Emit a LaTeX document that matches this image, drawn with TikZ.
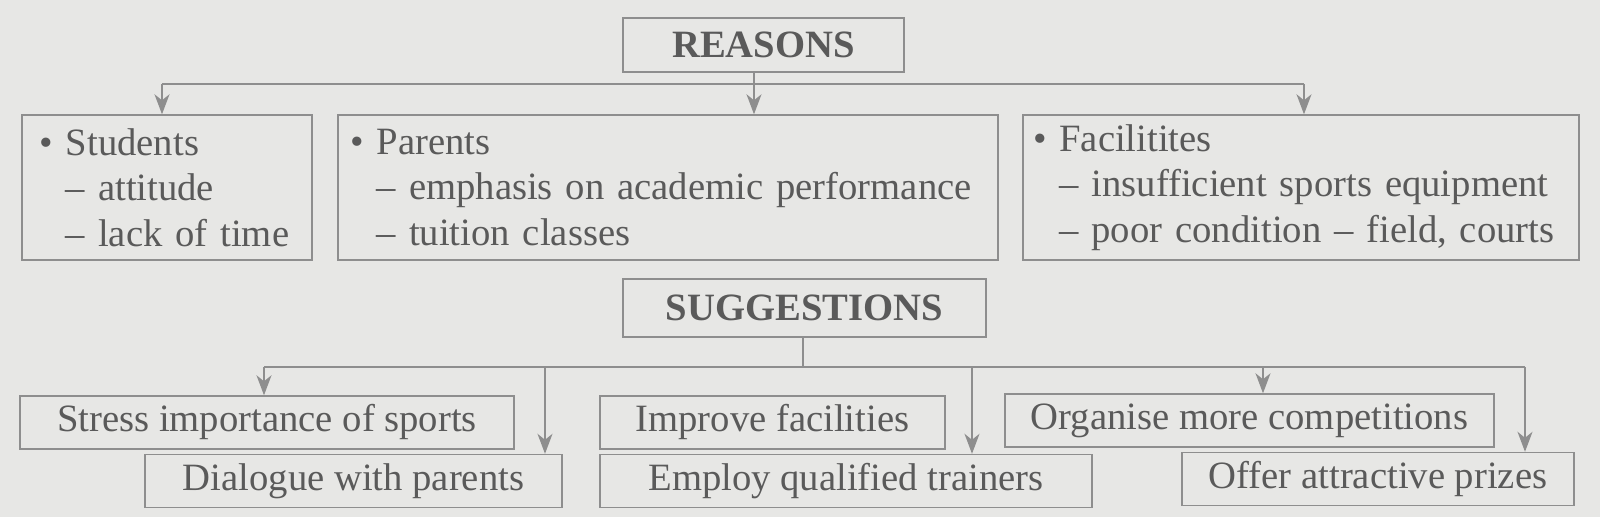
\documentclass[tikz,border=0pt]{standalone}
\usepackage{fontspec}
\setmainfont{Liberation Serif}
\usetikzlibrary{arrows.meta}
\definecolor{scanbg}{HTML}{E7E7E5}
\definecolor{inkline}{HTML}{8E8E8E}
\definecolor{inktext}{HTML}{5A5A5A}

\begin{document}
\begin{tikzpicture}[
  box/.style={draw=inkline, line width=0.8pt, text=inktext, inner sep=0pt, minimum height=1.06cm, font=\fontsize{22}{26}\selectfont},
  listbox/.style={box, align=left, inner xsep=0.35cm, minimum height=2.9cm},
  headbox/.style={box, font=\fontsize{22}{26}\selectfont\bfseries},
  bus/.style={draw=inkline, line width=0.8pt},
  arr/.style={bus, -{Stealth[length=0.4cm, width=0.3cm, inset=0.12cm]}}
]
\fill[scanbg] (0,0) rectangle (32,10.34);

% reasons
\node[headbox, minimum width=5.62cm, minimum height=1.08cm] (reasons) at (15.27,9.44) {REASONS};
\node[listbox, text width=5.1cm] (students) at (3.34,6.59) {\textbullet\ Students\\ \hphantom{\textbullet\ }-- attitude\\ \hphantom{\textbullet\ }-- lack of time};
\node[listbox, inner xsep=0.25cm, text width=12.7cm] (parents) at (13.36,6.59) {\textbullet\ Parents\\ \hphantom{\textbullet\ }-- emphasis on academic performance\\ \hphantom{\textbullet\ }-- tuition classes};
\node[listbox, inner xsep=0.2cm, text width=10.72cm] (facilities) at (26.02,6.59) {\textbullet\ Facilitites\\ \hphantom{\textbullet\ }-- insufficient sports equipment\\ \hphantom{\textbullet\ }-- poor condition -- field, courts};

\coordinate (rtop) at (15.08,8.66);
\coordinate (rl) at (3.24,8.66);
\coordinate (rr) at (26.08,8.66);
\draw[bus] (reasons.south -| rtop) -- (rtop);
\draw[bus] (rl) -- (rr);
\draw[arr] (rl) -- (rl |- students.north);
\draw[arr] (rtop) -- (rtop |- parents.north);
\draw[arr] (rr) -- (rr |- facilities.north);

% suggestions
\node[headbox, minimum width=7.26cm, minimum height=1.16cm] (suggestions) at (16.09,4.18) {SUGGESTIONS};
\node[box, minimum width=9.88cm] (stress) at (5.34,1.89) {Stress importance of sports};
\node[box, minimum width=6.9cm] (improve) at (15.45,1.89) {Improve facilities};
\node[box, minimum width=9.78cm] (organise) at (24.99,1.93) {Organise more competitions};
\node[box, minimum width=8.34cm] (dialogue) at (7.07,0.72) {Dialogue with parents};
\node[box, minimum width=9.84cm] (employ) at (16.92,0.72) {Employ qualified trainers};
\node[box, minimum width=7.84cm] (offer) at (27.56,0.76) {Offer attractive prizes};

\coordinate (stop) at (16.06,3.0);
\coordinate (s1) at (5.28,3.0);
\coordinate (s2) at (10.9,3.0);
\coordinate (s3) at (19.44,3.0);
\coordinate (s4) at (25.26,3.0);
\coordinate (s5) at (30.5,3.0);
\draw[bus] (suggestions.south -| stop) -- (stop);
\draw[bus] (s1) -- (s5);
\foreach \c/\n in {s1/stress, s2/dialogue, s3/employ, s4/organise, s5/offer}
  \draw[arr] (\c) -- (\c |- \n.north);
\end{tikzpicture}
\end{document}
